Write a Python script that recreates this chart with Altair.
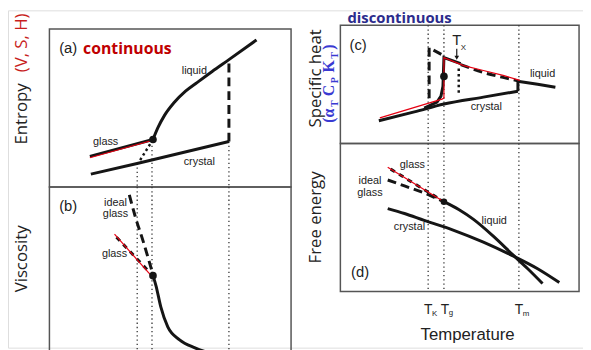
import altair as alt
import pandas as pd

# ---------------- data ----------------
# Values are in panel units: T counted from each panel's left edge,
# the property counted from each panel's bottom edge.
T_K, T_G, T_M = 89, 105, 182

# (a) entropy
a_liquid_T = [105, 110, 117, 126, 138, 150, 165, 182, 210]
a_liquid_S = [48, 60, 73, 85, 97, 106, 117, 129, 149]
a_glass_T = [41, 105]
a_glass_S = [31, 48]
a_glassfit_T = [41, 102]
a_glassfit_S = [29.5, 46.5]
a_crystal_T = [42, 90, 182]
a_crystal_S = [13, 24, 46]
a_melt_S = [46, 129]
a_kauz_T = [105, 90]
a_kauz_S = [48, 24]

# (b) viscosity
b_ideal_T = [81, 87, 95, 105]
b_ideal_V = [167, 145, 120, 86]
b_glassfit_T = [66, 105]
b_glassfit_V = [127, 83]
b_glass_T = [68, 102]
b_glass_V = [124, 88]
b_liquid_T = [105, 108, 113, 120, 132, 147, 165, 190]
b_liquid_V = [85, 75, 53, 33, 20, 12, 6, 2]

# (c) specific heat
c_crystal_T = [39, 75, 105, 145, 180]
c_crystal_C = [23, 32, 40, 47, 53]
c_step_C = [53, 63]
c_liquid_T = [180, 200, 218]
c_liquid_C = [63, 60, 57]
c_fit_T = [40, 103, 105, 105, 125, 145, 165, 182]
c_fit_C = [26, 45, 46, 87, 79, 74, 69, 64]
c_glass_T = [85, 98, 102, 104, 105, 122]
c_glass_C = [36, 42, 48, 58, 87, 81]
c_super_T = [122, 145, 165, 182]
c_super_C = [80, 72, 67, 63]
c_ideal_T = [90, 90, 105]
c_ideal_C = [46, 97, 89]
c_tx_T = 120
c_tx_C = [76, 50]
c_arrow_T = 118
c_arrow_C = [96, 87]

# (d) free energy
d_crystal_T = [48, 65, 85, 115, 145, 175, 200, 222]
d_crystal_G = [84, 79, 72, 62, 50, 36, 23, 9]
d_liquid_T = [105, 120, 135, 155, 175, 190, 205]
d_liquid_G = [91, 83, 73, 56, 37, 23, 8]
d_glassfit_T = [48, 105]
d_glassfit_G = [126, 91]
d_glass_T = [51, 105]
d_glass_G = [124, 91]
d_ideal_T = [48, 65, 85, 105]
d_ideal_G = [113, 107, 100, 91]

# ---------------- layout (page pixels of each panel frame) ----------------
PANELS = {
    "a": dict(x0=50, x1=295, top=27, bottom=187),
    "b": dict(x0=50, x1=295, top=187, bottom=362),
    "c": dict(x0=345, x1=587, top=23, bottom=143),
    "d": dict(x0=345, x1=587, top=143, bottom=293),
}


def gx(p, t):
    return PANELS[p]["x0"] + t


def gy(p, v):
    return PANELS[p]["bottom"] - v


series = [
    ("a", "gK", "guide", "linear", [T_K, T_K], [24, 0]),
    ("a", "gG", "guide", "linear", [T_G - 1, T_G - 1], [46, 0]),
    ("a", "gM", "guide", "linear", [T_M, T_M], [46, 0]),
    ("b", "gK", "guide", "linear", [T_K, T_K], [175, 0]),
    ("b", "gG", "guide", "linear", [T_G - 1, T_G - 1], [175, 0]),
    ("b", "gM", "guide", "linear", [T_M, T_M], [175, 0]),
    ("c", "gK", "guide", "linear", [T_K, T_K], [120, 0]),
    ("c", "gG", "guide", "linear", [T_G, T_G], [120, 0]),
    ("c", "gM", "guide", "linear", [T_M - 1, T_M - 1], [120, 0]),
    ("d", "gK", "guide", "linear", [T_K, T_K], [150, 0]),
    ("d", "gG", "guide", "linear", [T_G, T_G], [150, 0]),
    ("d", "gM", "guide", "linear", [T_M - 1, T_M - 1], [150, 0]),

    ("a", "liquid", "solid", "monotone", a_liquid_T, a_liquid_S),
    ("a", "glass", "solid", "linear", a_glass_T, a_glass_S),
    ("a", "crystal", "solid", "linear", a_crystal_T, a_crystal_S),
    ("a", "melt", "dash", "linear", [T_M, T_M], a_melt_S),
    ("a", "kauz", "dotthick", "linear", a_kauz_T, a_kauz_S),
    ("a", "glassfit", "red", "linear", a_glassfit_T, a_glassfit_S),

    ("b", "ideal", "dash", "monotone", b_ideal_T, b_ideal_V),
    ("b", "glass", "dashshort", "linear", b_glass_T, b_glass_V),
    ("b", "liquid", "solid", "monotone", b_liquid_T, b_liquid_V),
    ("b", "glassfit", "red", "linear", b_glassfit_T, b_glassfit_V),

    ("c", "crystal", "solid", "monotone", c_crystal_T, c_crystal_C),
    ("c", "step", "solid", "linear", [180, 180], c_step_C),
    ("c", "liquid", "solid", "monotone", c_liquid_T, c_liquid_C),
    ("c", "glass", "solid", "linear", c_glass_T, c_glass_C),
    ("c", "super", "dash", "monotone", c_super_T, c_super_C),
    ("c", "ideal", "dash", "linear", c_ideal_T, c_ideal_C),
    ("c", "tx", "dotthick", "linear", [c_tx_T, c_tx_T], c_tx_C),
    ("c", "arrow", "thin", "linear", [c_arrow_T, c_arrow_T], c_arrow_C),
    ("c", "fit", "red", "linear", c_fit_T, c_fit_C),

    ("d", "crystal", "solid", "monotone", d_crystal_T, d_crystal_G),
    ("d", "liquid", "solid", "monotone", d_liquid_T, d_liquid_G),
    ("d", "ideal", "dash", "linear", d_ideal_T, d_ideal_G),
    ("d", "glass", "dashshort", "linear", d_glass_T, d_glass_G),
    ("d", "glassfit", "red", "linear", d_glassfit_T, d_glassfit_G),
]

rows = []
for p, name, style, interp, Ts, Vs in series:
    for i, (t, v) in enumerate(zip(Ts, Vs)):
        rows.append(dict(key=p + name, style=style, interp=interp, i=i,
                         gx=gx(p, t), gy=gy(p, v)))
lines = pd.DataFrame(rows)

points = pd.DataFrame([
    dict(gx=gx("a", 105), gy=gy("a", 48), s=60),
    dict(gx=gx("b", 105), gy=gy("b", 85), s=60),
    dict(gx=gx("c", 105), gy=gy("c", 68), s=60),
    dict(gx=gx("d", 105), gy=gy("d", 91), s=45),
])
arrow_head = pd.DataFrame([dict(gx=gx("c", c_arrow_T), gy=gy("c", c_arrow_C[1]))])

frames = pd.DataFrame([
    dict(x=v["x0"], x2=v["x1"], y=v["top"], y2=v["bottom"]) for v in PANELS.values()
])

texts = [
    # panel (a)
    ("(a)", 69, 46, "panel"), ("continuous", 129, 47, "cont"),
    ("glass", 107, 142, "lbl"), ("liquid", 197, 70, "lbl"), ("crystal", 202, 162, "lbl"),
    # panel (b)
    ("(b)", 69, 206, "panel"), ("ideal", 117, 203, "lbl"), ("glass", 117, 215, "lbl"),
    ("glass", 116, 255, "lbl"),
    # panel (c)
    ("(c)", 363, 43, "panel"), ("liquid", 550, 73, "lbl"), ("crystal", 493, 106, "lbl"),
    # panel (d)
    ("(d)", 365, 273, "panel"), ("glass", 418, 165, "lbl"), ("ideal", 375, 181, "lbl"),
    ("glass", 375, 193, "lbl"), ("crystal", 415, 228, "lbl"), ("liquid", 501, 222, "lbl"),
    ("Temperature", 474, 337, "xtitle"),
]
txt = pd.DataFrame([dict(text=t, gx=x, gy=y, grp=g) for t, x, y, g in texts])

header = pd.DataFrame([dict(text="discontinuous", gx=405, gy=21)])

sym = pd.DataFrame([
    dict(text="T", gx=gx("d", T_K), gy=316, grp="sym"),
    dict(text="K", gx=gx("d", T_K) + 4, gy=318, grp="sub"),
    dict(text="T", gx=gx("d", T_G) + 1, gy=316, grp="sym"),
    dict(text="g", gx=gx("d", T_G) + 5, gy=317, grp="sub"),
    dict(text="T", gx=gx("d", T_M - 1), gy=316, grp="sym"),
    dict(text="m", gx=gx("d", T_M - 1) + 4, gy=318, grp="sub"),
    dict(text="T", gx=463, gy=43, grp="symbig"),
    dict(text="X", gx=467, gy=48, grp="sub"),
])

ytitles = pd.DataFrame([
    dict(text="Entropy", gx=27, gy=113, grp="yt"),
    dict(text="(V, S, H)", gx=27, gy=41, grp="ytred"),
    dict(text="Viscosity", gx=27, gy=260, grp="yt"),
    dict(text="Specific  heat", gx=325, gy=77, grp="yt"),
    dict(text="Free  energy", gx=325, gy=218, grp="yt"),
])

blue = pd.DataFrame([
    dict(text="(α", gx=339, gy=122, grp="bm"),
    dict(text="T", gx=343, gy=106, grp="bs"),
    dict(text="C", gx=339, gy=95, grp="bm"),
    dict(text="P", gx=343, gy=82, grp="bs"),
    dict(text="K", gx=339, gy=71, grp="bm"),
    dict(text="T", gx=343, gy=57, grp="bs"),
    dict(text=")", gx=339, gy=48, grp="bm"),
])

# ---------------- chart ----------------
xs = alt.Scale(domain=[8, 591], nice=False, zero=False)
ys = alt.Scale(domain=[8, 350], nice=False, zero=False, reverse=True)
X = alt.X("gx:Q", scale=xs, axis=None)
Y = alt.Y("gy:Q", scale=ys, axis=None)

layers = []
layers.append(
    alt.Chart(frames).mark_rect(fillOpacity=0, stroke="#555555", strokeWidth=1.5).encode(
        x=alt.X("x:Q", scale=xs, axis=None), x2="x2:Q",
        y=alt.Y("y:Q", scale=ys, axis=None), y2="y2:Q")
)

line_styles = {
    "guide": dict(color="#333333", strokeWidth=1.3, strokeDash=[1.3, 3]),
    "solid": dict(color="#151515", strokeWidth=3),
    "dash": dict(color="#151515", strokeWidth=3, strokeDash=[9, 5]),
    "dashshort": dict(color="#151515", strokeWidth=3, strokeDash=[5, 5]),
    "dotthick": dict(color="#151515", strokeWidth=2.5, strokeDash=[2.5, 3]),
    "thin": dict(color="#151515", strokeWidth=1.2),
    "red": dict(color="#e60012", strokeWidth=1.2),
}
for style, kw in line_styles.items():
    for interp in ["linear", "monotone"]:
        sub = lines[(lines["style"] == style) & (lines["interp"] == interp)]
        if len(sub) == 0:
            continue
        layers.append(
            alt.Chart(sub).mark_line(interpolate=interp, strokeCap="butt", **kw).encode(
                x=X, y=Y, detail="key:N", order=alt.Order("i:Q"))
        )

layers.append(
    alt.Chart(points).mark_circle(color="#151515", opacity=1).encode(
        x=X, y=Y, size=alt.Size("s:Q", scale=None, legend=None))
)
layers.append(
    alt.Chart(arrow_head).mark_point(shape="triangle-down", filled=True, size=22,
                                     color="#151515", opacity=1).encode(x=X, y=Y)
)

text_styles = {
    "lbl": dict(font="Liberation Sans", fontSize=11, color="#222222"),
    "panel": dict(font="Liberation Sans", fontSize=15, color="#222222"),
    "cont": dict(font="Open Sans", fontSize=16, fontWeight="bold", color="#c00000"),
    "xtitle": dict(font="Liberation Sans Narrow, Liberation Sans", fontSize=17, color="#222222"),
}
for g, kw in text_styles.items():
    sub = txt[txt["grp"] == g]
    layers.append(
        alt.Chart(sub).mark_text(align="center", baseline="middle", **kw).encode(
            x=X, y=Y, text="text:N")
    )

layers.append(
    alt.Chart(header).mark_text(align="center", baseline="alphabetic", font="Open Sans",
                                fontSize=15, fontWeight="bold", color="#2b2b8c").encode(
        x=X, y=Y, text="text:N")
)

sym_styles = {
    "sym": dict(font="Liberation Sans", fontSize=14, align="center"),
    "symbig": dict(font="Liberation Sans", fontSize=15, align="center"),
    "sub": dict(font="Liberation Sans", fontSize=8, align="left"),
}
for g, kw in sym_styles.items():
    sub = sym[sym["grp"] == g]
    layers.append(
        alt.Chart(sub).mark_text(baseline="alphabetic", color="#222222", **kw).encode(
            x=X, y=Y, text="text:N")
    )

for g, col in [("yt", "#222222"), ("ytred", "#c81e1e")]:
    sub = ytitles[ytitles["grp"] == g]
    layers.append(
        alt.Chart(sub).mark_text(angle=270, align="center", baseline="alphabetic",
                                 font="Open Sans", fontSize=17, color=col).encode(
            x=X, y=Y, text="text:N")
    )

for g, fs in [("bm", 16), ("bs", 10)]:
    sub = blue[blue["grp"] == g]
    layers.append(
        alt.Chart(sub).mark_text(angle=270, align="left", baseline="alphabetic",
                                 font="Liberation Serif", fontWeight="bold",
                                 fontSize=fs, color="#3a3ad2").encode(
            x=X, y=Y, text="text:N")
    )

chart = alt.layer(*layers).properties(
    width=583, height=342, padding=0,
    autosize=alt.AutoSizeParams(type="none"),
).configure_view(stroke=None).configure(background="white")

chart.save("out.html", embed_options={"renderer": "svg", "actions": False})
